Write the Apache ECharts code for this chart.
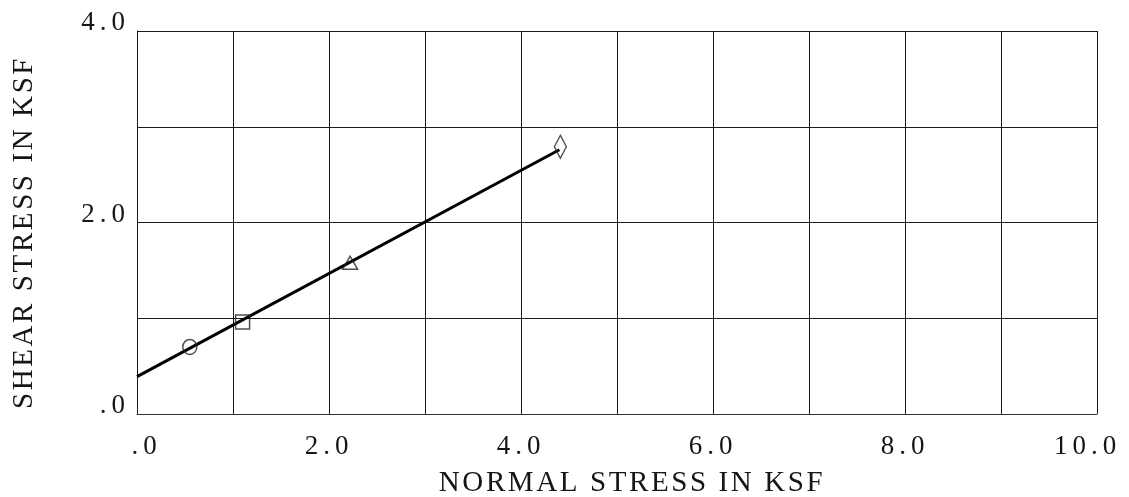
<!DOCTYPE html>
<html>
<head>
<meta charset="utf-8">
<script src="https://cdn.jsdelivr.net/npm/echarts@6/dist/echarts.min.js"></script>
<style>
html,body{margin:0;padding:0;background:#fff;}
#chart{width:1129px;height:497px;}
</style>
</head>
<body>
<div id="chart"></div>
<script>
// ---- data ----
const xTickValues = [0, 2, 4, 6, 8, 10];
const xTickLabels = ['.0', '2.0', '4.0', '6.0', '8.0', '10.0'];
const yTickValues = [0, 2, 4];
const yTickLabels = ['.0', '2.0', '4.0'];
const pointsX = [0.55, 1.10, 2.22, 4.41];
const pointsY = [0.70, 0.96, 1.58, 2.79];
const pointSymbols = ['circle', 'rect', 'triangle', 'diamond'];
const fitLineX = [0, 4.40];
const fitLineY = [0.39, 2.76];
const xTitle = 'NORMAL STRESS IN KSF';
const yTitle = 'SHEAR STRESS IN KSF';

// ---- styling ----
const FONT = '"Liberation Serif", "DejaVu Serif", serif';
const TXT = '#161616';
const TICK_FS = 27, TITLE_FS = 29;
const symbolSizes = { circle: [14, 15], rect: [14, 14], triangle: [15, 13], diamond: [12, 23] };

// wide plotter-style letter spacing for the chart's text
(function () {
  const P = CanvasRenderingContext2D.prototype;
  const spacingFor = (font) => (font.indexOf(TICK_FS + 'px') >= 0 ? '5px' : '2.6px');
  const origFill = P.fillText, origMeasure = P.measureText, origStroke = P.strokeText;
  P.fillText = function () { try { this.letterSpacing = spacingFor(this.font); } catch (e) {} return origFill.apply(this, arguments); };
  P.strokeText = function () { try { this.letterSpacing = spacingFor(this.font); } catch (e) {} return origStroke.apply(this, arguments); };
  P.measureText = function () { try { this.letterSpacing = spacingFor(this.font); } catch (e) {} return origMeasure.apply(this, arguments); };
})();

const chart = echarts.init(document.getElementById('chart'), null, { renderer: 'canvas' });

function xLabel(v) {
  const i = xTickValues.indexOf(Math.round(v * 1000) / 1000);
  if (i < 0) return '';
  const s = xTickLabels[i];
  const dot = s.indexOf('.');
  const before = dot, after = s.length - dot - 1;
  // decimal point sits on the tick
  if (before < after) return '{l|' + s + '}';
  if (before > after) return '{r|' + s + '}';
  return '{c|' + s + '}';
}
function yLabel(v) {
  const i = yTickValues.indexOf(Math.round(v * 1000) / 1000);
  return i < 0 ? '' : '{y|' + yTickLabels[i] + '}';
}

const labelRich = {
  c: { fontFamily: FONT, fontSize: TICK_FS, color: TXT },
  l: { fontFamily: FONT, fontSize: TICK_FS, color: TXT, padding: [0, 0, 0, 19] },
  r: { fontFamily: FONT, fontSize: TICK_FS, color: TXT, padding: [0, 19, 0, 0] }
};
const yRich = {
  y: { fontFamily: FONT, fontSize: TICK_FS, color: TXT, padding: [0, 0, 16, 0] }
};

const option = {
  animation: false,
  backgroundColor: '#fff',
  grid: { left: 137, right: 32, top: 31, bottom: 83, show: false, containLabel: false, outerBoundsMode: 'none' },
  xAxis: {
    type: 'value', min: 0, max: 10, interval: 1,
    name: xTitle, nameLocation: 'middle', nameGap: 47,
    nameTextStyle: { fontFamily: FONT, fontSize: TITLE_FS, color: TXT, padding: [0, 0, 0, 30] },
    axisLine: { show: true, onZero: false, lineStyle: { color: '#333', width: 1 } },
    axisTick: { show: false },
    splitLine: { show: true, lineStyle: { color: '#1a1a1a', width: 1 } },
    axisLabel: { formatter: xLabel, rich: labelRich, margin: 17, showMinLabel: true, showMaxLabel: true }
  },
  yAxis: {
    type: 'value', min: 0, max: 4, interval: 1,
    name: yTitle, nameLocation: 'middle', nameGap: 97, nameRotate: 90,
    nameTextStyle: { fontFamily: FONT, fontSize: TITLE_FS, color: TXT, padding: [0, 20, 0, 0] },
    axisLine: { show: true, onZero: false, lineStyle: { color: '#1a1a1a', width: 1 } },
    axisTick: { show: false },
    splitLine: { show: true, lineStyle: { color: '#1a1a1a', width: 1 } },
    axisLabel: { formatter: yLabel, rich: yRich, margin: 7, verticalAlign: 'middle' }
  },
  series: [
    {
      type: 'line',
      data: fitLineX.map((x, i) => [x, fitLineY[i]]),
      symbol: 'none',
      lineStyle: { color: '#000', width: 3 },
      z: 3
    },
    {
      type: 'scatter',
      data: pointsX.map((x, i) => [x, pointsY[i]]),
      symbol: (val, p) => pointSymbols[p.dataIndex],
      symbolSize: (val, p) => symbolSizes[pointSymbols[p.dataIndex]],
      itemStyle: { color: 'rgba(0,0,0,0)', borderColor: '#222', borderWidth: 1.5 },
      z: 4
    }
  ]
};
chart.setOption(option);
</script>
</body>
</html>
